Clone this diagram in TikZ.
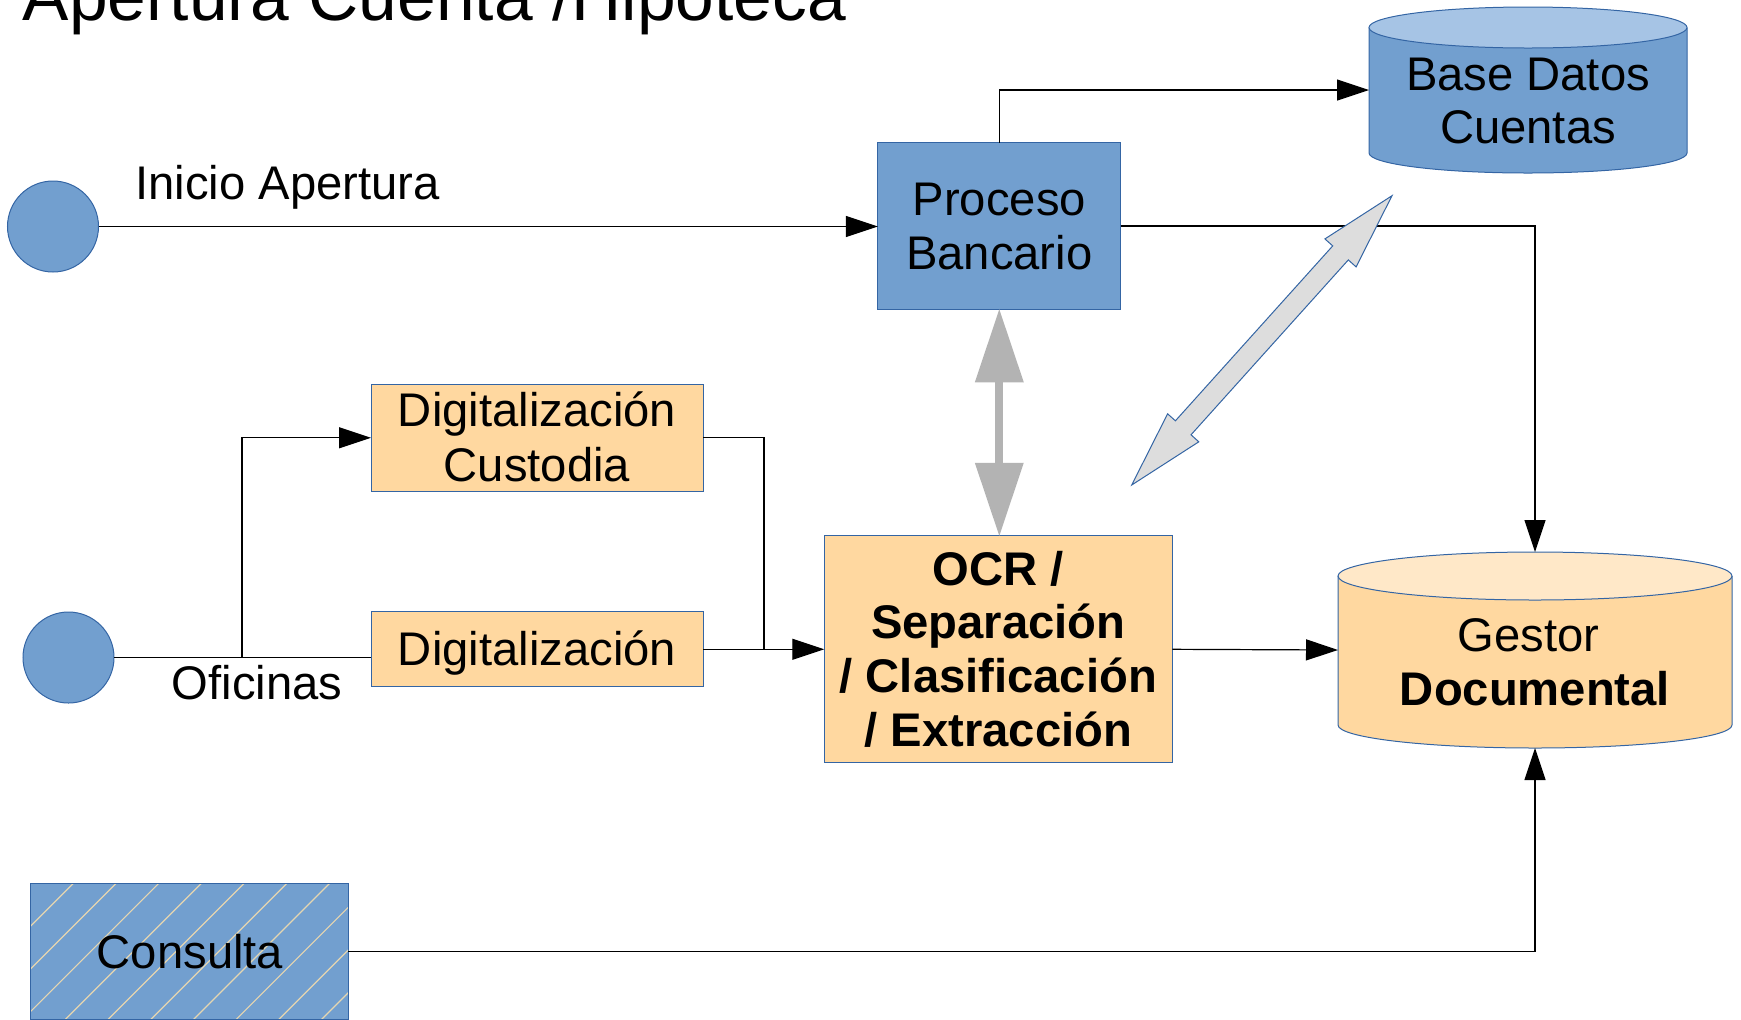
\documentclass[tikz,border=0pt]{standalone}
\usepackage{fontspec}
\setmainfont{Liberation Sans}
\usetikzlibrary{arrows.meta,calc}
\definecolor{bfill}{HTML}{729FCF}
\definecolor{bline}{HTML}{3465A4}
\definecolor{btop}{HTML}{A6C4E5}
\definecolor{ofill}{HTML}{FFD8A0}
\definecolor{otop}{HTML}{FFE8C8}
\definecolor{garr}{HTML}{B3B3B3}
\definecolor{dfill}{HTML}{DDDDDD}
\definecolor{hatchc}{HTML}{E6D6B0}
\newcommand\lst{\rule[-0.212em]{0pt}{1.117em}}
\begin{document}
\begin{tikzpicture}[x=0.5pt,y=-0.5pt,
  every node/.style={font=\fontsize{23.6pt}{26.75pt}\selectfont, inner sep=0pt, outer sep=0pt},
  conn/.style={draw=black, line width=0.6pt},
  arr/.style={conn, -{Triangle[length=16pt,width=10.5pt]}},
  bluebox/.style={draw=bline, line width=0.5pt, fill=bfill, align=center},
  orangebox/.style={draw=bline, line width=0.5pt, fill=ofill, align=center},
  dotnode/.style={circle, draw=bline, line width=0.5pt, fill=bfill, minimum size=45.5pt},
  lbl/.style={align=center},
  cylline/.style={draw=bline, line width=0.5pt},
  garrow/.style={draw=garr, line width=4pt,
     {Triangle[length=36.5pt,width=24.5pt,line width=0pt]}-{Triangle[length=36.5pt,width=24.5pt,line width=0pt]}}
]
\useasboundingbox (0,0) rectangle (1741,1019);
\clip (0,0) rectangle (1741,1019);

% title
\node[anchor=base west, font=\fontsize{34.75pt}{40pt}\selectfont] (title) at (23,20) {Apertura Cuenta /Hipoteca};

% start circles
\node[dotnode] (start1) at (53,226.5) {};
\node[dotnode] (start2) at (68.5,657.5) {};
\node (inicio) at (287.6,183.5) {\lst Inicio Apertura};
\node (oficinas) at (257,683.5) {\lst Oficinas};

% boxes
\node[bluebox, minimum width=121.5pt, minimum height=83.3pt] (proc) at (999.3,226) {\lst Proceso\\\lst Bancario};
\node[orangebox, minimum width=166pt, minimum height=52.85pt, font=\fontsize{23.6pt}{25.3pt}\selectfont] (cust) at (537,437.8) {\lst Digitalización\\\lst Custodia};
\node[orangebox, minimum width=166pt, minimum height=37.5pt] (dig) at (537,649.3) {\lst Digitalización};
\node[orangebox, minimum width=174pt, minimum height=113.5pt, font=\fontsize{23.6pt}{26.85pt}\selectfont\bfseries] (ocr) at (998.3,649.3) {\lst OCR /\\\lst Separación\\\lst / Clasificación\\\lst / Extracción};

% Base Datos cylinder
\fill[bfill] (1369,27.5) -- (1369,153) arc[start angle=180,end angle=360,x radius=79.5pt,y radius=10pt] -- (1687,27.5) -- cycle;
\draw[cylline] (1369,27.5) -- (1369,153) arc[start angle=180,end angle=360,x radius=79.5pt,y radius=10pt] -- (1687,27.5);
\draw[cylline, fill=btop] (1528,27.5) ellipse[x radius=79.5pt, y radius=10.25pt];
\node[minimum width=159pt, minimum height=83pt] (base) at (1528,90) {};
\node[lbl] (basetxt) at (1528,100.5) {\lst Base Datos\\\lst Cuentas};

% Gestor cylinder
\fill[ofill] (1338,576) -- (1338,725) arc[start angle=180,end angle=360,x radius=98.5pt,y radius=11.5pt] -- (1732,576) -- cycle;
\draw[cylline] (1338,576) -- (1338,725) arc[start angle=180,end angle=360,x radius=98.5pt,y radius=11.5pt] -- (1732,576);
\draw[cylline, fill=otop] (1535,576) ellipse[x radius=98.5pt, y radius=12pt];
\node[minimum width=197pt, minimum height=98pt] (gestor) at (1535,650) {};
\node[lbl] (gestortxt) at (1535,662) {\lst Gestor\kern0.278em\\\lst\textbf{Documental}};

% Consulta hatched box
\node[draw=bline, line width=0.5pt, fill=bfill, minimum width=159pt, minimum height=67.75pt] (consulta) at (189,951.7) {};
\begin{scope}
  \clip (consulta.south west) rectangle (consulta.north east);
  \foreach \k in {-2,...,11}{\draw[hatchc, line width=0.6pt] ({956.7+42.7*\k-1040},1040) -- ({956.7+42.7*\k-860},860);}
\end{scope}
\draw[draw=bline, line width=0.5pt] (consulta.south west) rectangle (consulta.north east);
\node (consultatxt) at (190,951.8) {\lst Consulta};

% connectors
\coordinate (branch) at (242,657.5);
\coordinate (jn) at (764,649.3);
\draw[arr] (start1) -- (start1 -| proc.west);
\draw[arr] (proc.north) |- (base.west);
\draw[arr] (proc.east) -| (gestor.north);
\draw[conn] (start2) -- (start2 -| dig.west);
\draw[arr] (branch) |- (cust.west);
\draw[conn] (cust.east) -| (jn);
\draw[arr] (dig.east) -- (ocr.west);
\draw[arr] (ocr.east) -- (gestor.west);
\draw[arr] (consulta.east) -| (gestor.south);

% gray double arrow
\draw[garrow] (proc.south) -- (proc.south |- ocr.north);

% diagonal block arrow
\draw[draw=bline, line width=0.5pt, fill=dfill] (1131.7,485) -- (1198.8,441.8) -- (1191.0,434.8) -- (1348.3,259.9) -- (1356.1,266.9) -- (1392,195.7) -- (1324.9,238.9) -- (1332.7,245.9) -- (1175.4,420.8) -- (1167.6,413.8) -- cycle;
\end{tikzpicture}
\end{document}
